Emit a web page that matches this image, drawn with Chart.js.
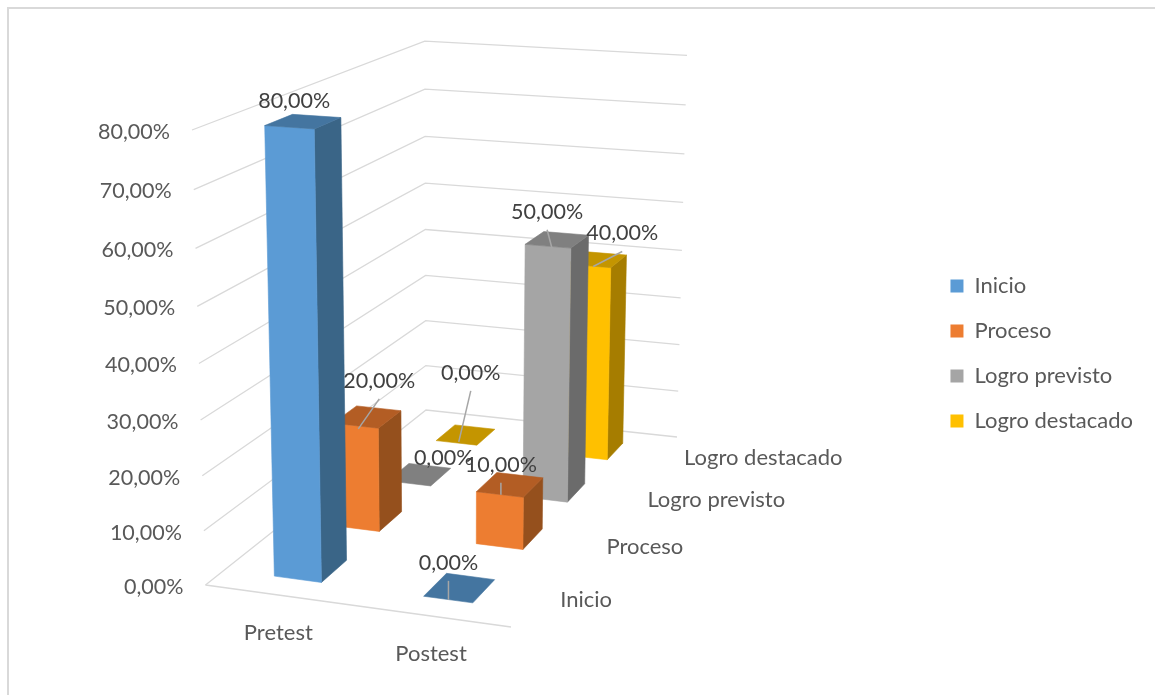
<!DOCTYPE html>
<html>
<head>
<meta charset="utf-8">
<title>Pretest / Postest</title>
<script src="https://cdn.jsdelivr.net/npm/chart.js@4"></script>
<style>
  html, body { margin: 0; padding: 0; background: #fff; }
  canvas { display: block; }
</style>
</head>
<body>
<canvas id="chart" width="1155" height="695"></canvas>
<script>
// ===== Data =====
const categories = ["Pretest", "Postest"];
const seriesNames = ["Inicio", "Proceso", "Logro previsto", "Logro destacado"];
const inicio = [80, 0];
const proceso = [20, 10];
const logroPrevisto = [0, 50];
const logroDestacado = [0, 40];
const axisMax = 80;
const axisStep = 10;

// front, side, top colours per series
const frontColors = ["#5B9BD5", "#ED7D31", "#A5A5A5", "#FFC000"];
const sideColors = ["#3A6587", "#95501D", "#6B6B6B", "#A67D00"];
const topColors = ["#4475A0", "#B35D24", "#808080", "#C49500"];

// label offsets from the top centre of each bar: [dx, dy, startDx, startDy]
// the start pair is where the leader line begins, null for no leader
const labelOffsets = [
    [[-9, -20, null, null], [-11, -25, -11, 12]],
    [[12, -36, -9, 12], [-9, -20, -9, 10]],
    [[24, -16, null, null], [-10, -28, -5, 9]],
    [[5, -62, -7, 7], [25, -26, -4, 7]]
];

const font = "Lato, 'Open Sans', sans-serif";
const textColor = "#595959";
const labelColor = "#404040";
const gridColor = "#D9D9D9";

// ===== 3D projection, fitted to the corners of the plot box =====
const cornerO = [205.5, 585, 1];   // x0 y0 z0
const cornerX = [511, 627, 1];     // x1 y0 z0
const cornerY = [192, 130, 1];     // x0 y1 z0
const cornerZ = [426, 410, 1];     // x0 y0 z1
const cornerXZ = [677, 437, 1];    // x1 y0 z1
const cornerXYZ = [687, 56, 1];    // x1 y1 z1

function det3(a, b, c) {
    return a[0] * (b[1] * c[2] - b[2] * c[1])
         - b[0] * (a[1] * c[2] - a[2] * c[1])
         + c[0] * (a[1] * b[2] - a[2] * b[1]);
}

function buildProjection() {
    const negXZ = cornerXZ.map(v => -v);
    const d = det3(cornerX, cornerZ, negXZ);
    const s1 = det3(cornerO, cornerZ, negXZ) / d;
    const s3 = det3(cornerX, cornerO, negXZ) / d;
    const a = [0, 1, 2].map(i => s1 * cornerX[i] + s3 * cornerZ[i] - 2 * cornerO[i]);
    // the x of the far top corner fixes the lean of the verticals
    const ux = cornerXYZ[0];
    const s2 = (ux * a[2] - a[0]) / (cornerY[0] - ux * cornerY[2]);
    const col = (p, s) => p.map((v, i) => s * v - cornerO[i]);
    return [col(cornerX, s1), col(cornerY, s2), col(cornerZ, s3), cornerO];
}
const P = buildProjection();

function project(x, y, z) {
    const h = [0, 1, 2].map(i => P[0][i] * x + P[1][i] * y + P[2][i] * z + P[3][i]);
    return [h[0] / h[2], h[1] / h[2]];
}

// bar depth as a share of one series band
const depthShare = 0.42;

function polygon(ctx, pts, color) {
    ctx.beginPath();
    pts.forEach((p, i) => i ? ctx.lineTo(p[0], p[1]) : ctx.moveTo(p[0], p[1]));
    ctx.closePath();
    ctx.fillStyle = color;
    ctx.fill();
    // thin stroke so no seam shows between faces
    ctx.strokeStyle = color;
    ctx.lineWidth = 0.6;
    ctx.stroke();
}

// scale positions as 0..1 shares of the hidden scales
function shareX(scale, value) {
    return (scale.getPixelForValue(value) - scale.left) / scale.width;
}
function shareY(scale, value) {
    return (scale.bottom - scale.getPixelForValue(value)) / scale.height;
}

// depth range of a series, from the hidden depth scale
function depthRange(chart, index) {
    const centre = shareX(chart.scales.depth, index);
    const half = depthShare * 0.5 / seriesNames.length;
    return [centre - half, centre + half];
}

// ===== Bar controller that draws each laid out bar as a projected box =====
class Bar3dController extends Chart.BarController {
    draw() {
        const chart = this.chart;
        const ctx = chart.ctx;
        const xs = chart.scales.x;
        const ys = chart.scales.y;
        const i = this.index;
        const [z0, z1] = depthRange(chart, i);
        this.getMeta().data.forEach(bar => {
            const x0 = (bar.x - bar.width / 2 - xs.left) / xs.width;
            const x1 = (bar.x + bar.width / 2 - xs.left) / xs.width;
            const y = (ys.bottom - bar.y) / ys.height;
            if (y > 0) {
                polygon(ctx, [project(x1, 0, z0), project(x1, 0, z1), project(x1, y, z1), project(x1, y, z0)], sideColors[i]);
                polygon(ctx, [project(x0, 0, z0), project(x1, 0, z0), project(x1, y, z0), project(x0, y, z0)], frontColors[i]);
            }
            polygon(ctx, [project(x0, y, z0), project(x1, y, z0), project(x1, y, z1), project(x0, y, z1)], topColors[i]);
        });
    }
}
Bar3dController.id = "bar3d";
Bar3dController.defaults = Chart.BarController.defaults;
Chart.register(Bar3dController);

function fmt(v) {
    return v.toFixed(2).replace(".", ",") + "%";
}

// ===== Walls, floor and axis text, all from the scales =====
const wallsPlugin = {
    id: "walls",
    beforeDatasetsDraw(chart) {
        const ctx = chart.ctx;
        const ys = chart.scales.y;
        const xs = chart.scales.x;
        const zs = chart.scales.depth;

        // chart frame
        ctx.strokeStyle = "#D9D9D9";
        ctx.lineWidth = 2;
        ctx.beginPath();
        ctx.moveTo(8, 695);
        ctx.lineTo(8, 8);
        ctx.lineTo(1155, 8);
        ctx.stroke();

        ctx.strokeStyle = gridColor;
        ctx.lineWidth = 1.3;
        ctx.font = "21.5px " + font;
        ctx.fillStyle = textColor;
        ctx.textBaseline = "middle";
        ys.ticks.forEach(t => {
            const y = shareY(ys, t.value);
            const a = project(0, y, 0), b = project(0, y, 1), c = project(1, y, 1);
            ctx.beginPath();
            ctx.moveTo(a[0], a[1]);
            ctx.lineTo(b[0], b[1]);
            ctx.lineTo(c[0], c[1]);
            ctx.stroke();

            ctx.textAlign = "right";
            ctx.fillText(fmt(t.value), a[0] - 22, a[1] + 2);
        });
        const f0 = project(0, 0, 0), f1 = project(1, 0, 0);
        ctx.beginPath();
        ctx.moveTo(f0[0], f0[1]);
        ctx.lineTo(f1[0], f1[1]);
        ctx.stroke();

        ctx.font = "22px " + font;
        // category labels under the front edge
        ctx.textAlign = "center";
        categories.forEach((name, i) => {
            const p = project(shareX(xs, i), 0, 0);
            ctx.fillText(name, p[0] - 1, p[1] + 38);
        });
        // series labels beside the right edge
        ctx.textAlign = "left";
        seriesNames.forEach((name, i) => {
            const p = project(1, 0, shareX(zs, i));
            ctx.fillText(name, p[0] + 24, p[1] + 2);
        });
    },
    // data labels go on top of every bar
    afterDatasetsDraw(chart) {
        const ctx = chart.ctx;
        const xs = chart.scales.x;
        const ys = chart.scales.y;
        ctx.font = "21.5px " + font;
        ctx.textAlign = "center";
        ctx.textBaseline = "middle";
        chart.data.datasets.forEach((ds, i) => {
            const [z0, z1] = depthRange(chart, i);
            ds.data.forEach((v, c) => {
                const p = project(shareX(xs, c), shareY(ys, v), (z0 + z1) / 2);
                const [dx, dy, sx, sy] = labelOffsets[i][c];
                if (sx !== null) {
                    ctx.strokeStyle = "#A6A6A6";
                    ctx.lineWidth = 1.5;
                    ctx.beginPath();
                    ctx.moveTo(p[0] + sx, p[1] + sy);
                    ctx.lineTo(p[0] + dx, p[1] + dy + 18);
                    ctx.stroke();
                }
                ctx.fillStyle = labelColor;
                ctx.fillText(fmt(v), p[0] + dx, p[1] + dy);
            });
        });
    }
};

const seriesValues = [inicio, proceso, logroPrevisto, logroDestacado];

new Chart(document.getElementById("chart"), {
    type: "bar3d",
    data: {
        labels: categories,
        datasets: seriesNames.map((name, i) => ({
            label: name,
            data: seriesValues[i],
            backgroundColor: frontColors[i],
            grouped: false,
            barPercentage: 0.32,
            categoryPercentage: 1
        }))
    },
    options: {
        responsive: false,
        animation: false,
        layout: { padding: { top: 12, right: 12 } },
        scales: {
            x: { display: false, offset: true },
            y: { display: false, min: 0, max: axisMax, ticks: { stepSize: axisStep } },
            depth: { type: "category", axis: "x", position: "bottom", labels: seriesNames, offset: true, display: false }
        },
        plugins: {
            legend: {
                position: "right",
                labels: {
                    boxWidth: 13,
                    boxHeight: 13,
                    padding: 23,
                    color: textColor,
                    font: { family: font, size: 22 }
                }
            },
            tooltip: { enabled: false }
        }
    },
    plugins: [wallsPlugin]
});
</script>
</body>
</html>
